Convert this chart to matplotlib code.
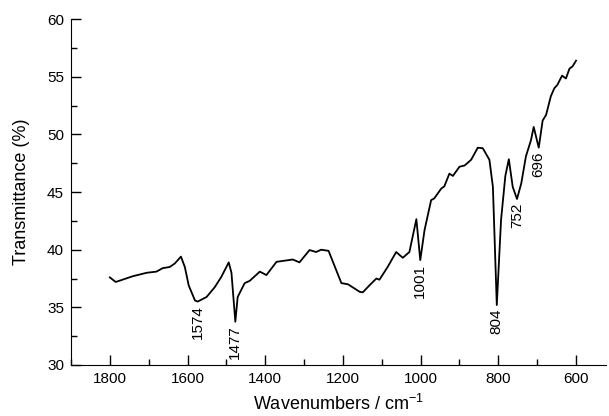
import matplotlib
matplotlib.use("Agg")
import matplotlib.pyplot as plt
from matplotlib.ticker import MultipleLocator

plt.rcParams["font.family"] = ["Liberation Sans", "DejaVu Sans"]
plt.rcParams["mathtext.default"] = "regular"

# spectrum (wavenumber cm-1, transmittance %)
wavenumber = [1800, 1785, 1741, 1705, 1680, 1664, 1646, 1633, 1617, 1607,
              1597, 1581, 1574, 1551, 1530, 1513, 1494, 1487, 1477, 1471,
              1453, 1440, 1414, 1397, 1371, 1329, 1312, 1286, 1269, 1256,
              1237, 1217, 1204, 1187, 1157, 1149, 1132, 1114, 1106, 1085,
              1063, 1046, 1029, 1011, 1001, 990, 973, 965, 947, 939,
              926, 917, 900, 887, 870, 853, 840, 823, 814, 804,
              793, 782, 773, 763, 752, 741, 729, 716, 709, 696,
              686, 677, 665, 656, 648, 636, 626, 617, 609, 600]
transmittance = [37.6, 37.2, 37.7, 38.0, 38.1, 38.4, 38.5, 38.8, 39.4, 38.5,
                 36.9, 35.6, 35.5, 35.9, 36.75, 37.65, 38.9, 38.0, 33.75, 35.9,
                 37.1, 37.3, 38.1, 37.8, 38.95, 39.15, 38.9, 39.97, 39.8, 40.0,
                 39.9, 38.2, 37.1, 37.0, 36.35, 36.3, 36.9, 37.5, 37.4, 38.5,
                 39.8, 39.3, 39.8, 42.65, 39.1, 41.7, 44.3, 44.45, 45.3, 45.5,
                 46.6, 46.4, 47.2, 47.3, 47.8, 48.85, 48.8, 47.8, 45.45, 35.2,
                 42.6, 46.4, 47.85, 45.45, 44.4, 45.75, 48.1, 49.5, 50.65, 48.85,
                 51.2, 51.7, 53.3, 54.0, 54.3, 55.1, 54.85, 55.7, 55.9, 56.4]

# labelled bands and the minimum they sit under
peaks = [1574, 1477, 1001, 804, 752, 696]
peak_mins = [35.5, 33.75, 39.1, 35.2, 44.4, 48.85]

fig = plt.figure(figsize=(6.09, 4.16), dpi=100)
ax = fig.add_axes([0.1166, 0.1226, 0.8784, 0.8314])

ax.plot(wavenumber, transmittance, color="black", linewidth=1.3)

for wn, tmin in zip(peaks, peak_mins):
    ax.text(wn, tmin - 0.3, str(wn), rotation=90, ha="center", va="top",
            fontsize=11)

ax.set_xlim(1900, 523)
ax.set_ylim(30, 60)
ax.xaxis.set_major_locator(MultipleLocator(200))
ax.xaxis.set_minor_locator(MultipleLocator(100))
ax.yaxis.set_major_locator(MultipleLocator(5))
ax.yaxis.set_minor_locator(MultipleLocator(2.5))
ax.tick_params(which="both", direction="in", labelsize=11, width=1)
ax.tick_params(which="major", length=7, pad=5)
ax.tick_params(which="minor", length=4)

ax.spines["top"].set_visible(False)
ax.spines["right"].set_visible(False)

ax.set_xlabel("Wavenumbers / cm$^{-1}$", fontsize=13, labelpad=6)
ax.set_ylabel("Transmittance (%)", fontsize=13, labelpad=12)

fig.savefig("out.png", dpi=100)
